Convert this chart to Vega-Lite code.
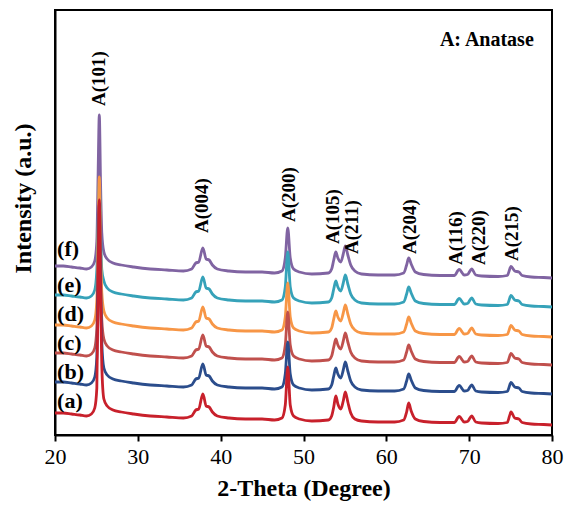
{
"$schema": "https://vega.github.io/schema/vega-lite/v6.json",
"width": 497, "height": 425,
"autosize": "none",
"padding": {"left": 55, "top": 10, "right": 14, "bottom": 71},
"background": "white",
"config": {"view": {"stroke": "black", "strokeWidth": 2}, "font": "Liberation Serif"},
"datasets": {
"xrd": [
{"s":"a","x":20,"y":22},{"s":"a","x":21,"y":22},{"s":"a","x":22,"y":21},{"s":"a","x":23,"y":20},{"s":"a","x":23.8,"y":19},{"s":"a","x":24.4,"y":21},{"s":"a","x":24.8,"y":27},{"s":"a","x":25.05,"y":47},{"s":"a","x":25.2,"y":150},{"s":"a","x":25.35,"y":235},
{"s":"a","x":25.5,"y":139},{"s":"a","x":25.65,"y":69},{"s":"a","x":25.9,"y":36},{"s":"a","x":26.3,"y":29},{"s":"a","x":27,"y":25},{"s":"a","x":28,"y":23},{"s":"a","x":29.5,"y":21},{"s":"a","x":31.5,"y":19},{"s":"a","x":33.5,"y":18},{"s":"a","x":35.5,"y":17},
{"s":"a","x":36.5,"y":19},{"s":"a","x":37,"y":25},{"s":"a","x":37.35,"y":26},{"s":"a","x":37.85,"y":41},{"s":"a","x":38.25,"y":29},{"s":"a","x":38.6,"y":28},{"s":"a","x":39,"y":23},{"s":"a","x":39.6,"y":19},{"s":"a","x":41,"y":17},{"s":"a","x":43,"y":16},
{"s":"a","x":45,"y":16},{"s":"a","x":46.5,"y":15},{"s":"a","x":47.4,"y":17},{"s":"a","x":47.8,"y":30},{"s":"a","x":48.1,"y":68},{"s":"a","x":48.4,"y":30},{"s":"a","x":48.8,"y":19},{"s":"a","x":49.5,"y":16},{"s":"a","x":51,"y":14},{"s":"a","x":53,"y":15},
{"s":"a","x":53.4,"y":19},{"s":"a","x":53.65,"y":28},{"s":"a","x":53.9,"y":39},{"s":"a","x":54.15,"y":31},{"s":"a","x":54.5,"y":26},{"s":"a","x":54.8,"y":34},{"s":"a","x":55.05,"y":43},{"s":"a","x":55.35,"y":33},{"s":"a","x":55.7,"y":22},{"s":"a","x":56.2,"y":16},
{"s":"a","x":57,"y":14},{"s":"a","x":59,"y":13},{"s":"a","x":61,"y":13},{"s":"a","x":62.1,"y":15},{"s":"a","x":62.45,"y":23},{"s":"a","x":62.7,"y":32},{"s":"a","x":63,"y":24},{"s":"a","x":63.5,"y":16},{"s":"a","x":64.5,"y":13.5},{"s":"a","x":66.5,"y":12.5},
{"s":"a","x":68.2,"y":12.5},{"s":"a","x":68.8,"y":18.5},{"s":"a","x":69.4,"y":13},{"s":"a","x":69.8,"y":13.5},{"s":"a","x":70.3,"y":19},{"s":"a","x":70.8,"y":13},{"s":"a","x":71.5,"y":12},{"s":"a","x":73.5,"y":11.5},{"s":"a","x":74.6,"y":12.5},{"s":"a","x":75.05,"y":23},
{"s":"a","x":75.5,"y":17},{"s":"a","x":76,"y":16},{"s":"a","x":76.4,"y":12.5},{"s":"a","x":77.5,"y":11},{"s":"a","x":79,"y":10.5},{"s":"a","x":80,"y":10},
{"s":"b","x":20,"y":53},{"s":"b","x":21,"y":53},{"s":"b","x":22,"y":52},{"s":"b","x":23,"y":51},{"s":"b","x":23.8,"y":50},{"s":"b","x":24.4,"y":52},{"s":"b","x":24.8,"y":58},{"s":"b","x":25.05,"y":78},{"s":"b","x":25.2,"y":160},{"s":"b","x":25.35,"y":231},
{"s":"b","x":25.5,"y":151},{"s":"b","x":25.65,"y":92},{"s":"b","x":25.9,"y":67},{"s":"b","x":26.3,"y":60},{"s":"b","x":27,"y":56},{"s":"b","x":28,"y":54},{"s":"b","x":29.5,"y":52},{"s":"b","x":31.5,"y":50},{"s":"b","x":33.5,"y":49},{"s":"b","x":35.5,"y":48},
{"s":"b","x":36.5,"y":50},{"s":"b","x":37,"y":56},{"s":"b","x":37.35,"y":57},{"s":"b","x":37.85,"y":71},{"s":"b","x":38.25,"y":60},{"s":"b","x":38.6,"y":59},{"s":"b","x":39,"y":54},{"s":"b","x":39.6,"y":50},{"s":"b","x":41,"y":48},{"s":"b","x":43,"y":47},
{"s":"b","x":45,"y":47},{"s":"b","x":46.5,"y":46},{"s":"b","x":47.4,"y":48},{"s":"b","x":47.8,"y":61},{"s":"b","x":48.1,"y":93},{"s":"b","x":48.4,"y":61},{"s":"b","x":48.8,"y":50},{"s":"b","x":49.5,"y":47},{"s":"b","x":51,"y":45},{"s":"b","x":53,"y":46},
{"s":"b","x":53.4,"y":50},{"s":"b","x":53.65,"y":59},{"s":"b","x":53.9,"y":67},{"s":"b","x":54.15,"y":61},{"s":"b","x":54.5,"y":57},{"s":"b","x":54.8,"y":65},{"s":"b","x":55.05,"y":73},{"s":"b","x":55.35,"y":64},{"s":"b","x":55.7,"y":54},{"s":"b","x":56.2,"y":48},
{"s":"b","x":57,"y":45},{"s":"b","x":59,"y":44},{"s":"b","x":61,"y":44},{"s":"b","x":62.1,"y":46},{"s":"b","x":62.45,"y":54},{"s":"b","x":62.7,"y":61},{"s":"b","x":63,"y":55},{"s":"b","x":63.5,"y":47},{"s":"b","x":64.5,"y":44.5},{"s":"b","x":66.5,"y":43.5},
{"s":"b","x":68.2,"y":43.5},{"s":"b","x":68.8,"y":49.5},{"s":"b","x":69.4,"y":44},{"s":"b","x":69.8,"y":44.5},{"s":"b","x":70.3,"y":50},{"s":"b","x":70.8,"y":44},{"s":"b","x":71.5,"y":43},{"s":"b","x":73.5,"y":42.5},{"s":"b","x":74.6,"y":43.5},{"s":"b","x":75.05,"y":52.5},
{"s":"b","x":75.5,"y":48},{"s":"b","x":76,"y":47},{"s":"b","x":76.4,"y":43.5},{"s":"b","x":77.5,"y":42},{"s":"b","x":79,"y":41.5},{"s":"b","x":80,"y":41},
{"s":"c","x":20,"y":82},{"s":"c","x":21,"y":82},{"s":"c","x":22,"y":81},{"s":"c","x":23,"y":80},{"s":"c","x":23.8,"y":79},{"s":"c","x":24.4,"y":81},{"s":"c","x":24.8,"y":87},{"s":"c","x":25.05,"y":107},{"s":"c","x":25.2,"y":172},{"s":"c","x":25.35,"y":232},
{"s":"c","x":25.5,"y":164.5},{"s":"c","x":25.65,"y":115},{"s":"c","x":25.9,"y":96},{"s":"c","x":26.3,"y":89},{"s":"c","x":27,"y":85},{"s":"c","x":28,"y":83},{"s":"c","x":29.5,"y":81},{"s":"c","x":31.5,"y":79},{"s":"c","x":33.5,"y":78},{"s":"c","x":35.5,"y":77},
{"s":"c","x":36.5,"y":79},{"s":"c","x":37,"y":85},{"s":"c","x":37.35,"y":86},{"s":"c","x":37.85,"y":100},{"s":"c","x":38.25,"y":89},{"s":"c","x":38.6,"y":88},{"s":"c","x":39,"y":83},{"s":"c","x":39.6,"y":79},{"s":"c","x":41,"y":77},{"s":"c","x":43,"y":76},
{"s":"c","x":45,"y":76},{"s":"c","x":46.5,"y":75},{"s":"c","x":47.4,"y":77},{"s":"c","x":47.8,"y":90},{"s":"c","x":48.1,"y":123},{"s":"c","x":48.4,"y":90},{"s":"c","x":48.8,"y":79},{"s":"c","x":49.5,"y":76},{"s":"c","x":51,"y":74},{"s":"c","x":53,"y":75},
{"s":"c","x":53.4,"y":79},{"s":"c","x":53.65,"y":88},{"s":"c","x":53.9,"y":96},{"s":"c","x":54.15,"y":90},{"s":"c","x":54.5,"y":86},{"s":"c","x":54.8,"y":94},{"s":"c","x":55.05,"y":102},{"s":"c","x":55.35,"y":93},{"s":"c","x":55.7,"y":83},{"s":"c","x":56.2,"y":77},
{"s":"c","x":57,"y":74},{"s":"c","x":59,"y":73},{"s":"c","x":61,"y":73},{"s":"c","x":62.1,"y":75},{"s":"c","x":62.45,"y":83},{"s":"c","x":62.7,"y":90},{"s":"c","x":63,"y":84},{"s":"c","x":63.5,"y":76},{"s":"c","x":64.5,"y":73.5},{"s":"c","x":66.5,"y":72.5},
{"s":"c","x":68.2,"y":72.5},{"s":"c","x":68.8,"y":78.5},{"s":"c","x":69.4,"y":73},{"s":"c","x":69.8,"y":73.5},{"s":"c","x":70.3,"y":79},{"s":"c","x":70.8,"y":73},{"s":"c","x":71.5,"y":72},{"s":"c","x":73.5,"y":71.5},{"s":"c","x":74.6,"y":72.5},{"s":"c","x":75.05,"y":81.5},
{"s":"c","x":75.5,"y":77},{"s":"c","x":76,"y":76},{"s":"c","x":76.4,"y":72.5},{"s":"c","x":77.5,"y":71},{"s":"c","x":79,"y":70.5},{"s":"c","x":80,"y":70},
{"s":"d","x":20,"y":110},{"s":"d","x":21,"y":110},{"s":"d","x":22,"y":109},{"s":"d","x":23,"y":108},{"s":"d","x":23.8,"y":107},{"s":"d","x":24.4,"y":109},{"s":"d","x":24.8,"y":115},{"s":"d","x":25.05,"y":135},{"s":"d","x":25.2,"y":199},{"s":"d","x":25.35,"y":258},
{"s":"d","x":25.5,"y":191.4},{"s":"d","x":25.65,"y":142.6},{"s":"d","x":25.9,"y":124},{"s":"d","x":26.3,"y":117},{"s":"d","x":27,"y":113},{"s":"d","x":28,"y":111},{"s":"d","x":29.5,"y":109},{"s":"d","x":31.5,"y":107},{"s":"d","x":33.5,"y":106},{"s":"d","x":35.5,"y":105},
{"s":"d","x":36.5,"y":107},{"s":"d","x":37,"y":113},{"s":"d","x":37.35,"y":114},{"s":"d","x":37.85,"y":128},{"s":"d","x":38.25,"y":117},{"s":"d","x":38.6,"y":116},{"s":"d","x":39,"y":111},{"s":"d","x":39.6,"y":107},{"s":"d","x":41,"y":105},{"s":"d","x":43,"y":104},
{"s":"d","x":45,"y":104},{"s":"d","x":46.5,"y":103},{"s":"d","x":47.4,"y":105},{"s":"d","x":47.8,"y":118},{"s":"d","x":48.1,"y":152},{"s":"d","x":48.4,"y":118},{"s":"d","x":48.8,"y":107},{"s":"d","x":49.5,"y":104},{"s":"d","x":51,"y":102},{"s":"d","x":53,"y":103},
{"s":"d","x":53.4,"y":107},{"s":"d","x":53.65,"y":116},{"s":"d","x":53.9,"y":124},{"s":"d","x":54.15,"y":118},{"s":"d","x":54.5,"y":114},{"s":"d","x":54.8,"y":122},{"s":"d","x":55.05,"y":130},{"s":"d","x":55.35,"y":121},{"s":"d","x":55.7,"y":111},{"s":"d","x":56.2,"y":105},
{"s":"d","x":57,"y":102},{"s":"d","x":59,"y":101},{"s":"d","x":61,"y":101},{"s":"d","x":62.1,"y":103},{"s":"d","x":62.45,"y":111},{"s":"d","x":62.7,"y":118},{"s":"d","x":63,"y":112},{"s":"d","x":63.5,"y":104},{"s":"d","x":64.5,"y":101.5},{"s":"d","x":66.5,"y":100.5},
{"s":"d","x":68.2,"y":100.5},{"s":"d","x":68.8,"y":106.5},{"s":"d","x":69.4,"y":101},{"s":"d","x":69.8,"y":101.5},{"s":"d","x":70.3,"y":107},{"s":"d","x":70.8,"y":101},{"s":"d","x":71.5,"y":100},{"s":"d","x":73.5,"y":99.5},{"s":"d","x":74.6,"y":100.5},{"s":"d","x":75.05,"y":109.5},
{"s":"d","x":75.5,"y":105},{"s":"d","x":76,"y":104},{"s":"d","x":76.4,"y":100.5},{"s":"d","x":77.5,"y":99},{"s":"d","x":79,"y":98.5},{"s":"d","x":80,"y":98},
{"s":"e","x":20,"y":140},{"s":"e","x":21,"y":140},{"s":"e","x":22,"y":139},{"s":"e","x":23,"y":138},{"s":"e","x":23.8,"y":137},{"s":"e","x":24.4,"y":139},{"s":"e","x":24.8,"y":145},{"s":"e","x":25.05,"y":165},{"s":"e","x":25.2,"y":209},{"s":"e","x":25.35,"y":255},
{"s":"e","x":25.5,"y":203.3},{"s":"e","x":25.65,"y":165.3},{"s":"e","x":25.9,"y":154},{"s":"e","x":26.3,"y":147},{"s":"e","x":27,"y":143},{"s":"e","x":28,"y":141},{"s":"e","x":29.5,"y":139},{"s":"e","x":31.5,"y":137},{"s":"e","x":33.5,"y":136},{"s":"e","x":35.5,"y":135},
{"s":"e","x":36.5,"y":137},{"s":"e","x":37,"y":143},{"s":"e","x":37.35,"y":144},{"s":"e","x":37.85,"y":158},{"s":"e","x":38.25,"y":147},{"s":"e","x":38.6,"y":146},{"s":"e","x":39,"y":141},{"s":"e","x":39.6,"y":137},{"s":"e","x":41,"y":135},{"s":"e","x":43,"y":134},
{"s":"e","x":45,"y":134},{"s":"e","x":46.5,"y":133},{"s":"e","x":47.4,"y":135},{"s":"e","x":47.8,"y":148},{"s":"e","x":48.1,"y":183},{"s":"e","x":48.4,"y":148},{"s":"e","x":48.8,"y":137},{"s":"e","x":49.5,"y":134},{"s":"e","x":51,"y":132},{"s":"e","x":53,"y":133},
{"s":"e","x":53.4,"y":137},{"s":"e","x":53.65,"y":146},{"s":"e","x":53.9,"y":154},{"s":"e","x":54.15,"y":148},{"s":"e","x":54.5,"y":144},{"s":"e","x":54.8,"y":152},{"s":"e","x":55.05,"y":160},{"s":"e","x":55.35,"y":151},{"s":"e","x":55.7,"y":141},{"s":"e","x":56.2,"y":135},
{"s":"e","x":57,"y":132},{"s":"e","x":59,"y":131},{"s":"e","x":61,"y":131},{"s":"e","x":62.1,"y":133},{"s":"e","x":62.45,"y":141},{"s":"e","x":62.7,"y":148},{"s":"e","x":63,"y":142},{"s":"e","x":63.5,"y":134},{"s":"e","x":64.5,"y":131.5},{"s":"e","x":66.5,"y":130.5},
{"s":"e","x":68.2,"y":130.5},{"s":"e","x":68.8,"y":136.5},{"s":"e","x":69.4,"y":131},{"s":"e","x":69.8,"y":131.5},{"s":"e","x":70.3,"y":137},{"s":"e","x":70.8,"y":131},{"s":"e","x":71.5,"y":130},{"s":"e","x":73.5,"y":129.5},{"s":"e","x":74.6,"y":130.5},{"s":"e","x":75.05,"y":139.5},
{"s":"e","x":75.5,"y":135},{"s":"e","x":76,"y":134},{"s":"e","x":76.4,"y":130.5},{"s":"e","x":77.5,"y":129},{"s":"e","x":79,"y":128.5},{"s":"e","x":80,"y":128},
{"s":"f","x":20,"y":169},{"s":"f","x":21,"y":169},{"s":"f","x":22,"y":168},{"s":"f","x":23,"y":167},{"s":"f","x":23.8,"y":166},{"s":"f","x":24.4,"y":168},{"s":"f","x":24.8,"y":174},{"s":"f","x":25.05,"y":194},{"s":"f","x":25.2,"y":259.6},{"s":"f","x":25.35,"y":320},
{"s":"f","x":25.5,"y":252},{"s":"f","x":25.65,"y":202.2},{"s":"f","x":25.9,"y":183},{"s":"f","x":26.3,"y":176},{"s":"f","x":27,"y":172},{"s":"f","x":28,"y":170},{"s":"f","x":29.5,"y":168},{"s":"f","x":31.5,"y":166},{"s":"f","x":33.5,"y":165},{"s":"f","x":35.5,"y":164},
{"s":"f","x":36.5,"y":166},{"s":"f","x":37,"y":172},{"s":"f","x":37.35,"y":173},{"s":"f","x":37.85,"y":187},{"s":"f","x":38.25,"y":176},{"s":"f","x":38.6,"y":175},{"s":"f","x":39,"y":170},{"s":"f","x":39.6,"y":166},{"s":"f","x":41,"y":164},{"s":"f","x":43,"y":163},
{"s":"f","x":45,"y":163},{"s":"f","x":46.5,"y":162},{"s":"f","x":47.4,"y":164},{"s":"f","x":47.8,"y":177},{"s":"f","x":48.1,"y":207},{"s":"f","x":48.4,"y":177},{"s":"f","x":48.8,"y":166},{"s":"f","x":49.5,"y":163},{"s":"f","x":51,"y":161},{"s":"f","x":53,"y":162},
{"s":"f","x":53.4,"y":166},{"s":"f","x":53.65,"y":175},{"s":"f","x":53.9,"y":183},{"s":"f","x":54.15,"y":177},{"s":"f","x":54.5,"y":173},{"s":"f","x":54.8,"y":181},{"s":"f","x":55.05,"y":189},{"s":"f","x":55.35,"y":180},{"s":"f","x":55.7,"y":170},{"s":"f","x":56.2,"y":164},
{"s":"f","x":57,"y":161},{"s":"f","x":59,"y":160},{"s":"f","x":61,"y":160},{"s":"f","x":62.1,"y":162},{"s":"f","x":62.45,"y":170},{"s":"f","x":62.7,"y":177},{"s":"f","x":63,"y":171},{"s":"f","x":63.5,"y":163},{"s":"f","x":64.5,"y":160.5},{"s":"f","x":66.5,"y":159.5},
{"s":"f","x":68.2,"y":159.5},{"s":"f","x":68.8,"y":165.5},{"s":"f","x":69.4,"y":160},{"s":"f","x":69.8,"y":160.5},{"s":"f","x":70.3,"y":166},{"s":"f","x":70.8,"y":160},{"s":"f","x":71.5,"y":159},{"s":"f","x":73.5,"y":158.5},{"s":"f","x":74.6,"y":159.5},{"s":"f","x":75.05,"y":168.5},
{"s":"f","x":75.5,"y":164},{"s":"f","x":76,"y":163},{"s":"f","x":76.4,"y":159.5},{"s":"f","x":77.5,"y":158},{"s":"f","x":79,"y":157.5},{"s":"f","x":80,"y":157}
],
"peaks": [
{"label":"A(101)","x":25.3,"y":329},
{"label":"A(004)","x":37.8,"y":202},
{"label":"A(200)","x":48.2,"y":213},
{"label":"A(105)","x":53.6,"y":191},
{"label":"A(211)","x":55.9,"y":181},
{"label":"A(204)","x":62.8,"y":181},
{"label":"A(116)","x":68.4,"y":170},
{"label":"A(220)","x":71.2,"y":170},
{"label":"A(215)","x":75.2,"y":174}
],
"names": [
{"label":"(a)","x":20.25,"y":34},
{"label":"(b)","x":20.25,"y":63},
{"label":"(c)","x":20.25,"y":92},
{"label":"(d)","x":20.25,"y":121},
{"label":"(e)","x":20.25,"y":150},
{"label":"(f)","x":20.25,"y":186}
],
"note": [
{"label":"A: Anatase","x":77.8,"y":389}
]
},
"encoding": {
"x": {"field":"x","type":"quantitative","scale":{"domain":[20,80],"nice":false,"zero":false},
 "axis":{"values":[20,30,40,50,60,70,80],"title":"2-Theta (Degree)","titleFontSize":24,"titleFontWeight":"bold","titleColor":"black","titleFont":"Liberation Serif","titlePadding":9,
 "labelFontSize":22,"labelFont":"Liberation Serif","labelColor":"black","labelPadding":5,"labelFlush":false,"tickSize":6,"tickWidth":2,"tickColor":"black","domainColor":"black","domainWidth":2,"grid":false}},
"y": {"field":"y","type":"quantitative","scale":{"domain":[0,425],"nice":false},
 "axis":{"labels":false,"ticks":false,"grid":false,"domainColor":"black","domainWidth":2,"title":"Intensity (a.u.)","titleFontSize":24,"titleFontWeight":"bold","titleColor":"black","titleFont":"Liberation Serif","titleAngle":270,"titleX":-32,"titleY":188,"titleAlign":"center","titleBaseline":"middle"}}
},
"layer": [
{"data":{"name":"xrd"},"transform":[{"filter":"datum.s==='f'"}],"mark":{"type":"line","color":"#8064A2","strokeWidth":2.8,"interpolate":"monotone"}},
{"data":{"name":"xrd"},"transform":[{"filter":"datum.s==='e'"}],"mark":{"type":"line","color":"#36A2B9","strokeWidth":2.8,"interpolate":"monotone"}},
{"data":{"name":"xrd"},"transform":[{"filter":"datum.s==='d'"}],"mark":{"type":"line","color":"#F79646","strokeWidth":2.8,"interpolate":"monotone"}},
{"data":{"name":"xrd"},"transform":[{"filter":"datum.s==='c'"}],"mark":{"type":"line","color":"#C0504D","strokeWidth":2.8,"interpolate":"monotone"}},
{"data":{"name":"xrd"},"transform":[{"filter":"datum.s==='b'"}],"mark":{"type":"line","color":"#2B4D8C","strokeWidth":2.8,"interpolate":"monotone"}},
{"data":{"name":"xrd"},"transform":[{"filter":"datum.s==='a'"}],"mark":{"type":"line","color":"#C8202B","strokeWidth":2.8,"interpolate":"monotone"}},
{"data":{"name":"peaks"},"mark":{"type":"text","angle":270,"align":"left","baseline":"middle","fontSize":19,"fontWeight":"bold","font":"Liberation Serif","color":"black"},"encoding":{"text":{"field":"label"}}},
{"data":{"name":"names"},"mark":{"type":"text","align":"left","baseline":"middle","fontSize":22,"fontWeight":"bold","font":"Liberation Serif","color":"black"},"encoding":{"text":{"field":"label"}}},
{"data":{"name":"note"},"mark":{"type":"text","align":"right","baseline":"alphabetic","fontSize":20,"fontWeight":"bold","font":"Liberation Serif","color":"black"},"encoding":{"text":{"field":"label"}}}
]
}
